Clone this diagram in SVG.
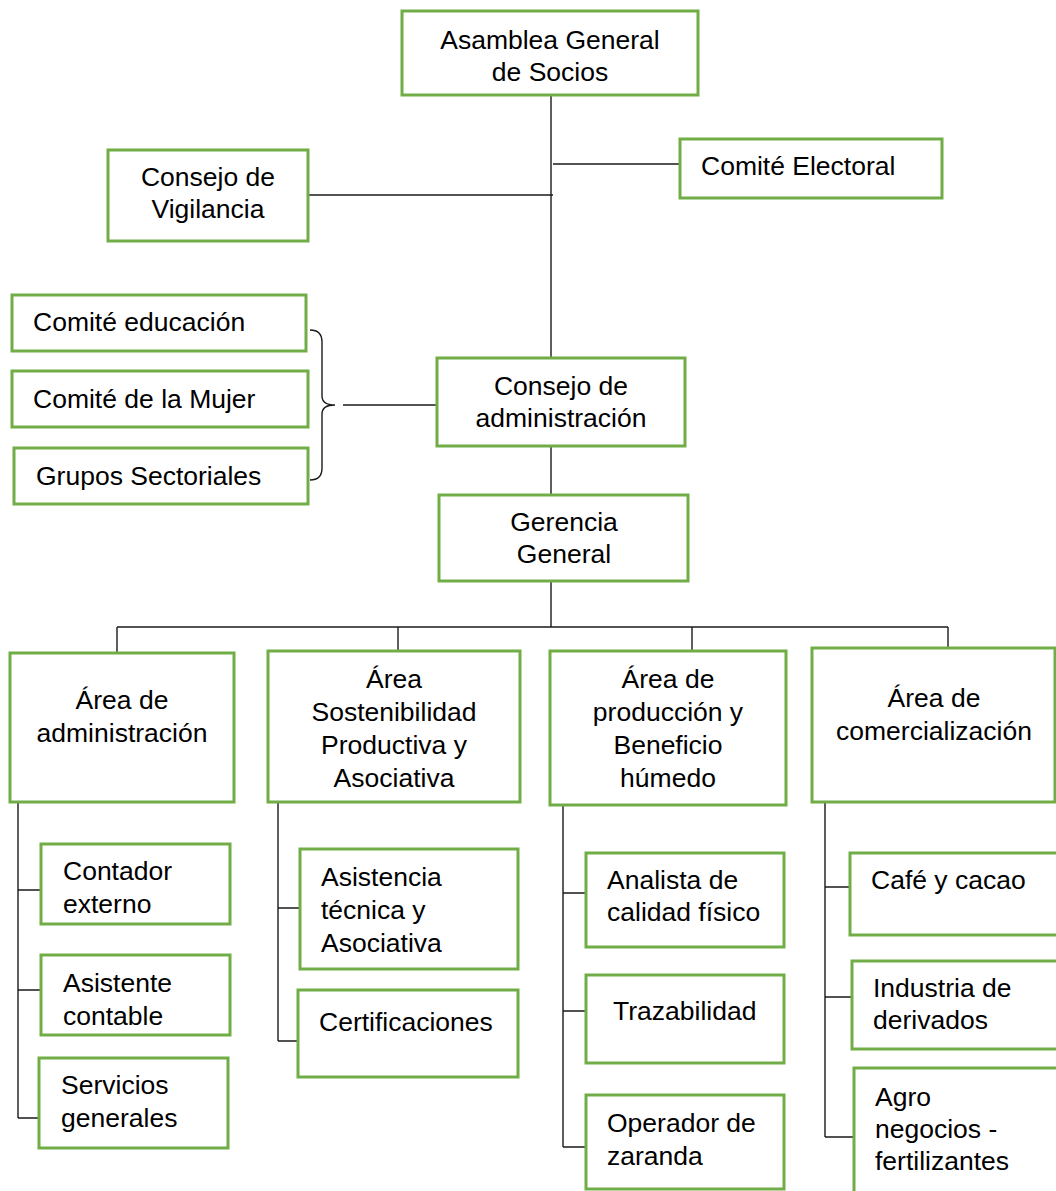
<svg xmlns="http://www.w3.org/2000/svg" width="1056" height="1191" viewBox="0 0 1056 1191">
<style>
.box{fill:#fff;stroke:#70AD47;stroke-width:3}
.t{font-family:"Liberation Sans",Arial,sans-serif;font-size:26.5px;fill:#000}
.c{text-anchor:middle}
.ln{fill:none;stroke:#1a1a1a;stroke-width:1.4}
</style>
<rect width="1056" height="1191" fill="#fff"/>
<g id="connectors" class="ln">
<path d="M551,95 V358"/>
<path d="M553,164 H680"/>
<path d="M308,195 H553"/>
<path d="M310,330 Q322,330 322,342 V396 Q322,405 335,405 Q322,405 322,414 V468 Q322,480 310,480"/>
<path d="M343,405 H436"/>
<path d="M551,446 V495"/>
<path d="M551,581 V627"/>
<path d="M117,627 H948"/>
<path d="M117,627 V653"/>
<path d="M398,627 V651"/>
<path d="M692,627 V651"/>
<path d="M948,627 V648"/>
<path d="M18,802 V1118 M18,890 H41 M18,990 H41 M18,1118 H39"/>
<path d="M278,802 V1041 M278,908 H300 M278,1041 H298"/>
<path d="M563,805 V1147 M563,893 H586 M563,1011 H586 M563,1147 H586"/>
<path d="M825,802 V1137 M825,887 H850 M825,997 H852 M825,1137 H854"/>
</g>
<g id="asamblea"><rect class="box" x="402" y="11" width="296" height="84"/><text class="t c" x="550" y="49">Asamblea General</text><text class="t c" x="550" y="81">de Socios</text></g>
<g id="comite-electoral"><rect class="box" x="680" y="139" width="262" height="59"/><text class="t" x="701" y="175">Comité Electoral</text></g>
<g id="consejo-vigilancia"><rect class="box" x="108" y="150" width="200" height="91"/><text class="t c" x="208" y="186">Consejo de</text><text class="t c" x="208" y="218">Vigilancia</text></g>
<g id="comite-educacion"><rect class="box" x="12" y="295" width="294" height="56"/><text class="t" x="33" y="331">Comité educación</text></g>
<g id="comite-mujer"><rect class="box" x="12" y="371" width="296" height="56"/><text class="t" x="33" y="408">Comité de la Mujer</text></g>
<g id="grupos-sectoriales"><rect class="box" x="14" y="448" width="294" height="56"/><text class="t" x="36" y="485">Grupos Sectoriales</text></g>
<g id="consejo-admin"><rect class="box" x="437" y="358" width="248" height="88"/><text class="t c" x="561" y="395">Consejo de</text><text class="t c" x="561" y="427">administración</text></g>
<g id="gerencia"><rect class="box" x="439" y="495" width="249" height="86"/><text class="t c" x="564" y="531">Gerencia</text><text class="t c" x="564" y="563">General</text></g>
<g id="area-admin"><rect class="box" x="10" y="653" width="224" height="149"/><text class="t c" x="122" y="709">Área de</text><text class="t c" x="122" y="742">administración</text></g>
<g id="area-sostenibilidad"><rect class="box" x="268" y="651" width="252" height="151"/><text class="t c" x="394" y="688">Área</text><text class="t c" x="394" y="721">Sostenibilidad</text><text class="t c" x="394" y="754">Productiva y</text><text class="t c" x="394" y="787">Asociativa</text></g>
<g id="area-produccion"><rect class="box" x="550" y="651" width="236" height="154"/><text class="t c" x="668" y="688">Área de</text><text class="t c" x="668" y="721">producción y</text><text class="t c" x="668" y="754">Beneficio</text><text class="t c" x="668" y="787">húmedo</text></g>
<g id="area-comercializacion"><rect class="box" x="812" y="648" width="243" height="154"/><text class="t c" x="934" y="707">Área de</text><text class="t c" x="934" y="740">comercialización</text></g>
<g id="contador"><rect class="box" x="41" y="844" width="189" height="80"/><text class="t" x="63" y="880">Contador</text><text class="t" x="63" y="913">externo</text></g>
<g id="asistente"><rect class="box" x="41" y="955" width="189" height="80"/><text class="t" x="63" y="992">Asistente</text><text class="t" x="63" y="1025">contable</text></g>
<g id="servicios"><rect class="box" x="39" y="1058" width="189" height="90"/><text class="t" x="61" y="1094">Servicios</text><text class="t" x="61" y="1127">generales</text></g>
<g id="asistencia"><rect class="box" x="300" y="849" width="218" height="120"/><text class="t" x="321" y="886">Asistencia</text><text class="t" x="321" y="919">técnica y</text><text class="t" x="321" y="952">Asociativa</text></g>
<g id="certificaciones"><rect class="box" x="298" y="990" width="220" height="87"/><text class="t" x="319" y="1031">Certificaciones</text></g>
<g id="analista"><rect class="box" x="586" y="853" width="198" height="94"/><text class="t" x="607" y="889">Analista de</text><text class="t" x="607" y="921">calidad físico</text></g>
<g id="trazabilidad"><rect class="box" x="586" y="975" width="198" height="88"/><text class="t" x="613" y="1020">Trazabilidad</text></g>
<g id="operador"><rect class="box" x="586" y="1095" width="198" height="94"/><text class="t" x="607" y="1132">Operador de</text><text class="t" x="607" y="1165">zaranda</text></g>
<g id="cafe"><rect class="box" x="850" y="853" width="210" height="82"/><text class="t" x="871" y="889">Café y cacao</text></g>
<g id="industria"><rect class="box" x="852" y="961" width="208" height="88"/><text class="t" x="873" y="997">Industria de</text><text class="t" x="873" y="1029">derivados</text></g>
<g id="agro"><rect class="box" x="854" y="1068" width="206" height="130"/><text class="t" x="875" y="1106">Agro</text><text class="t" x="875" y="1138">negocios -</text><text class="t" x="875" y="1170">fertilizantes</text></g>
</svg>
